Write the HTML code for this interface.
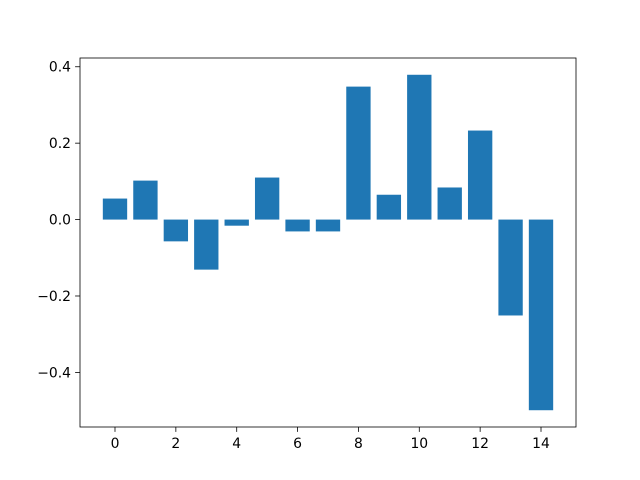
<!DOCTYPE html>
<html><head><meta charset="utf-8"><style>
body{margin:0;background:#fff;}
svg{display:block;font-family:"DejaVu Sans","Liberation Sans",sans-serif;}
</style></head><body>
<svg id="chart" width="640" height="480">
<rect width="640" height="480" fill="#fff"/>
<g id="bars"></g>
<g id="axes"></g>
</svg>
<script>
const categories=[0,1,2,3,4,5,6,7,8,9,10,11,12,13,14];
const values=[0.055,0.102,-0.057,-0.131,-0.016,0.110,-0.031,-0.031,0.348,0.065,0.379,0.084,0.233,-0.251,-0.499];
const xTicks=[0,2,4,6,8,10,12,14];
const yTicks=[-0.4,-0.2,0.0,0.2,0.4];
const yTickLabels=["\u22120.4","\u22120.2","0.0","0.2","0.4"];

const L=80,R=576,T=58,B=427;
const xmin=-1.15,xmax=15.15;
const vmin=Math.min(...values),vmax=Math.max(...values),m=(vmax-vmin)*0.05;
const ymin=vmin-m,ymax=vmax+m;
const sx=v=>L+(v-xmin)/(xmax-xmin)*(R-L);
const sy=v=>B-(v-ymin)/(ymax-ymin)*(B-T);
const NS="http://www.w3.org/2000/svg";
function mk(tag,attrs,parent){const e=document.createElementNS(NS,tag);for(const k in attrs)e.setAttribute(k,attrs[k]);parent.appendChild(e);return e;}
const bars=document.getElementById('bars'),axes=document.getElementById('axes');
categories.forEach((c,i)=>{
  const v=values[i],y0=sy(0),y1=sy(v);
  const r=mk('rect',{x:sx(c-0.4),y:Math.min(y0,y1),width:sx(c+0.4)-sx(c-0.4),height:Math.abs(y1-y0),fill:'#1f77b4'},bars);
  
  
});
const frame=mk('rect',{x:L,y:T,width:R-L,height:B-T,fill:'none',stroke:'#000','stroke-width':0.8},axes);


xTicks.forEach(t=>{
  const x=sx(t);
  mk('line',{x1:x,x2:x,y1:B,y2:B+4.9,stroke:'#000','stroke-width':0.8},axes);
  const tx=mk('text',{x:x,y:B+21,'font-size':13.9,'text-anchor':'middle'},axes);
  tx.textContent=t;
  
  
});
yTicks.forEach((t,i)=>{
  const y=sy(t);
  mk('line',{x1:L-4.9,x2:L,y1:y,y2:y,stroke:'#000','stroke-width':0.8},axes);
  const tx=mk('text',{x:L-9,y:y+5,'font-size':13.9,'text-anchor':'end'},axes);
  tx.textContent=yTickLabels[i];
  
  
});
</script>
</body></html>
